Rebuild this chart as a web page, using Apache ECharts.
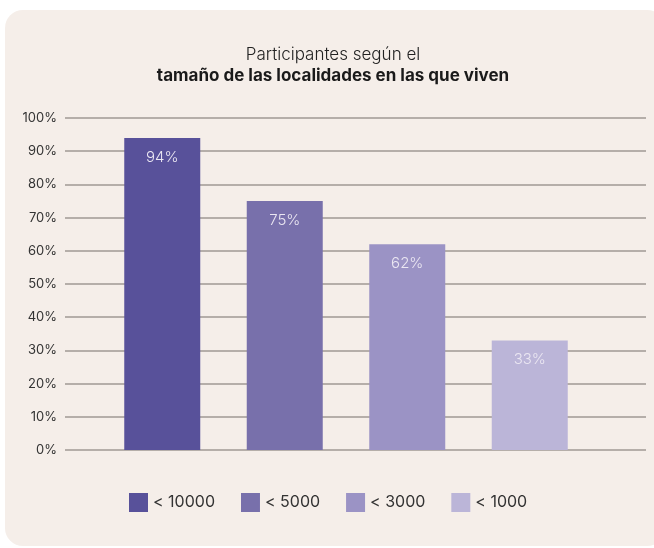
<!DOCTYPE html>
<html><head><meta charset="utf-8">
<script src="https://cdn.jsdelivr.net/npm/echarts@6/dist/echarts.min.js"></script>
<style>
html,body{margin:0;padding:0;background:#fff;width:654px;height:548px;overflow:hidden;}
#card{position:absolute;left:5px;top:10px;width:660px;height:536px;border-radius:18px;background:#f5eee9;}
#c{position:absolute;left:0;top:0;width:654px;height:548px;}
</style></head>
<body><div id="card"></div><div id="c"></div>
<script>
const categories = ['< 10000', '< 5000', '< 3000', '< 1000'];
const values = [94, 75, 62, 33];
const colors = ['#58519a', '#7870ab', '#9b93c5', '#bbb5d8'];
const yTicks = [0, 10, 20, 30, 40, 50, 60, 70, 80, 90, 100];

const font = 'Inter, "Noto Sans", sans-serif';
const chart = echarts.init(document.getElementById('c'), null, {renderer: 'canvas'});
const series = categories.map((name, i) => ({
  name: name,
  type: 'bar',
  xAxisIndex: 1, yAxisIndex: 1,
  barWidth: 76,
  barGap: '-100%',
  data: categories.map((c, j) => j === i ? values[i] : '-'),
  itemStyle: {color: colors[i]},
  label: {show: true, position: 'insideTop', distance: 12, formatter: '{c}%',
    color: '#ebe7f2', fontSize: 15, fontFamily: font, fontWeight: 300}
}));
chart.setOption({
  backgroundColor: 'transparent',
  animation: false,
  title: {
    text: 'Participantes según el',
    subtext: 'tamaño de las localidades en las que viven',
    left: 328, textAlign: 'center', top: 41,
    itemGap: 4,
    textStyle: {fontFamily: font, fontSize: 17, fontWeight: 300, color: '#222'},
    subtextStyle: {fontFamily: font, fontSize: 17, fontWeight: 'bold', color: '#1a1a1a'}
  },
  legend: {
    data: categories, left: 124, top: 488,
    itemWidth: 19, itemHeight: 19, itemGap: 26,
    icon: 'rect',
    textStyle: {fontFamily: font, fontSize: 16, color: '#333'}
  },
  grid: [
    {left: 65, right: 8, top: 118, bottom: 98},
    {left: 101, right: 63, top: 118, bottom: 98}
  ],
  xAxis: [
    {gridIndex: 0, type: 'category', data: categories, show: false},
    {gridIndex: 1, type: 'category', data: categories,
     axisLine: {show: false}, axisTick: {show: false}, axisLabel: {show: false}}
  ],
  yAxis: [
    {gridIndex: 0, type: 'value', min: 0, max: 100, interval: 10,
     axisLine: {show: false}, axisTick: {show: false},
     axisLabel: {formatter: v => yTicks.includes(v) ? v + '%' : '', margin: 8, fontFamily: font, fontSize: 13, color: '#333'},
     splitLine: {lineStyle: {color: '#9f9893', width: 1.5}}},
    {gridIndex: 1, type: 'value', min: 0, max: 100, interval: 10, show: false}
  ],
  series: series
});
</script></body></html>
